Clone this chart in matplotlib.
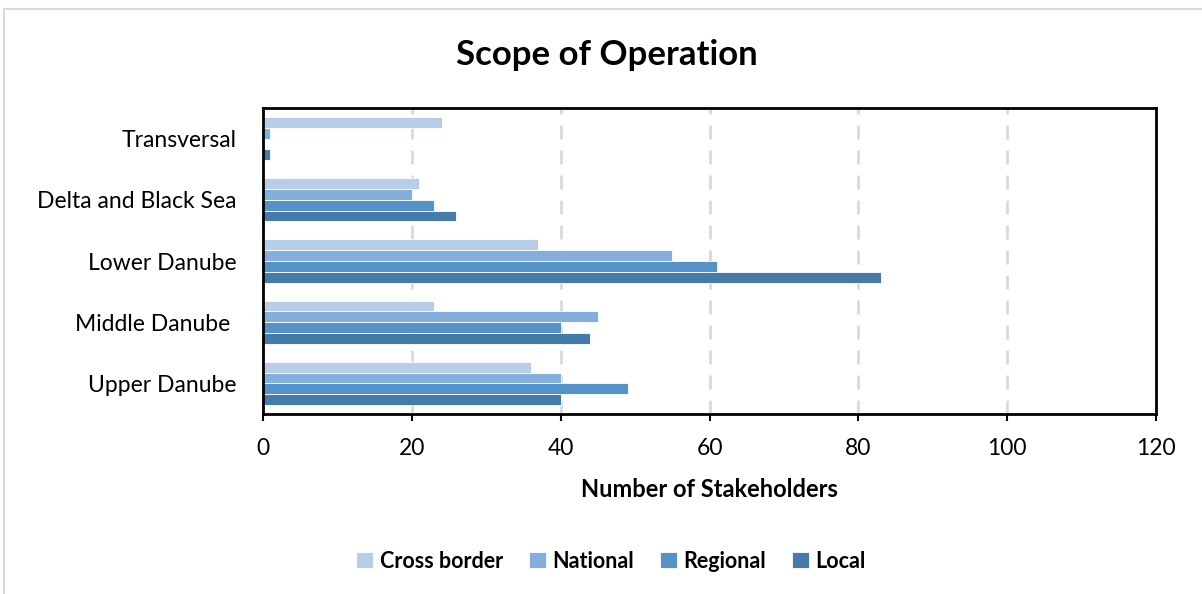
import matplotlib
matplotlib.use("Agg")
import matplotlib.pyplot as plt
from matplotlib.patches import Rectangle
import numpy as np

categories = ["Upper Danube", "Middle Danube ", "Lower Danube", "Delta and Black Sea", "Transversal"]
series_names = ["Cross border", "National", "Regional", "Local"]
cross_border = [36, 23, 37, 21, 24]
national = [40, 45, 55, 20, 1]
regional = [49, 40, 61, 23, 0]
local = [40, 44, 83, 26, 1]
colors = ["#B8CDE8", "#84AEDB", "#5592C8", "#467AA8"]
xticks = [0, 20, 40, 60, 80, 100, 120]

plt.rcParams['font.family'] = ['Lato', 'DejaVu Sans']

W, H = 1202, 594
fig = plt.figure(figsize=(W / 100, H / 100), dpi=100)
ax = fig.add_axes([263 / W, 1 - 414 / H, (1156 - 263) / W, (414 - 108) / H])

# outer chart border
fig.patches.append(Rectangle((4 / W, -0.1), 1.2, 1 - 9 / H + 0.1, transform=fig.transFigure,
                             fill=False, edgecolor="#D9D9D9", linewidth=1.5))

y = np.arange(len(categories))
bh = 0.176
vals = [cross_border, national, regional, local]
offsets = [1.5 * bh, 0.5 * bh, -0.5 * bh, -1.5 * bh]
handles = []
for name, v, c, off in zip(series_names, vals, colors, offsets):
    h = ax.barh(y + off, v, height=bh, color=c, edgecolor="white", linewidth=0.6, label=name, zorder=3)
    handles.append(h)

ax.set_xlim(0, 120)
ax.set_ylim(-0.5, len(categories) - 0.5)
ax.set_xticks(xticks)
ax.set_xticklabels([str(t) for t in xticks], fontsize=16.5)
ax.set_yticks(y)
ax.set_yticklabels(categories, fontsize=16.5)
ax.tick_params(axis='y', length=0, pad=19)
ax.tick_params(axis='x', length=5, width=1.5, direction='out', pad=12)
ax.grid(axis='x', linestyle=(0, (5, 4)), color="#D9D9D9", linewidth=2, zorder=0)
for s in ax.spines.values():
    s.set_linewidth(2)
    s.set_color("black")
    s.set_zorder(5)

ax.set_xlabel("Number of Stakeholders", fontsize=17, fontweight='bold', labelpad=14)
fig.text(607 / W, 1 - 55 / H, "Scope of Operation", ha='center', va='center', fontsize=25, fontweight='bold')

leg = fig.legend(handles=handles, labels=series_names, loc='center', bbox_to_anchor=(611 / W, 1 - 561 / H),
                 ncol=4, frameon=False, prop={'size': 15.5, 'weight': 'bold'}, handlelength=0.8,
                 handleheight=0.8, handletextpad=0.3, columnspacing=1.2)

fig.savefig("out.png", dpi=100)
